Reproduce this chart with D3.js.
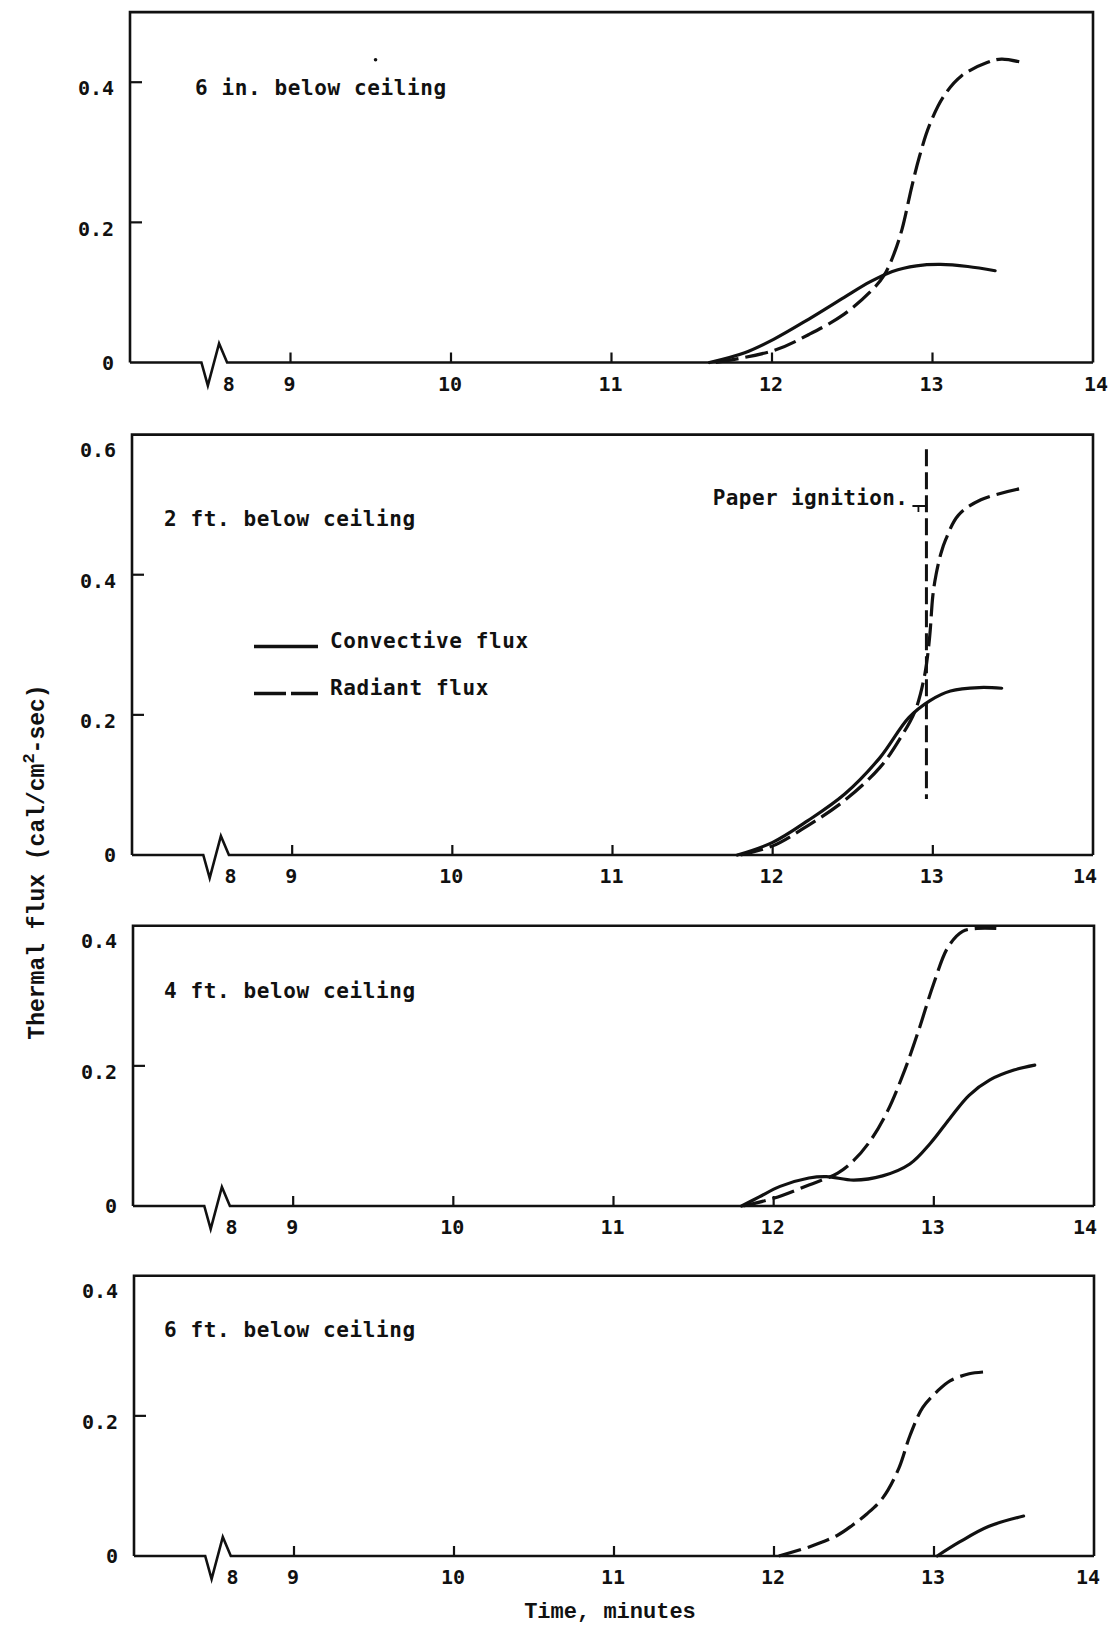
<!DOCTYPE html>
<html><head><meta charset="utf-8">
<script src="https://cdnjs.cloudflare.com/ajax/libs/d3/7.8.5/d3.min.js"></script>
<style>
html,body{margin:0;padding:0;background:#fff;}
svg{display:block;}
</style></head><body>
<svg id="chart" width="1117" height="1627"></svg>
<script>
// ---------------- DATA ----------------
const panelLabels = ["6 in. below ceiling", "2 ft. below ceiling", "4 ft. below ceiling", "6 ft. below ceiling"];
const xTickValues = [9, 10, 11, 12, 13, 14];
const xTickLabels = ["9", "10", "11", "12", "13", "14"];
const xBreakLabel = "8";
const yDomainMax = [0.5, 0.6, 0.4, 0.4];
const yTickValues = [[0, 0.2, 0.4], [0, 0.2, 0.4, 0.6], [0, 0.2, 0.4], [0, 0.2, 0.4]];
const yTickLabels = [["0", "0.2", "0.4"], ["0", "0.2", "0.4", "0.6"], ["0", "0.2", "0.4"], ["0", "0.2", "0.4"]];
const seriesNames = ["Convective flux", "Radiant flux"];
const xTitle = "Time, minutes";
const yTitleParts = ["Thermal flux (cal/cm", "2", "-sec)"];
const ignitionLabel = "Paper ignition.";
const ignitionTime = 12.96;
const ignitionRange = [0.08, 0.579];

// 6 in. below ceiling
const p1ConvTime = [11.61, 11.83, 12.01, 12.23, 12.45, 12.61, 12.75, 12.90, 13.05, 13.22, 13.39];
const p1ConvFlux = [0, 0.014, 0.033, 0.062, 0.093, 0.115, 0.130, 0.138, 0.140, 0.137, 0.131];
const p1RadTime = [11.65, 12.01, 12.23, 12.45, 12.63, 12.70, 12.76, 12.81, 12.87, 12.92, 12.98, 13.07, 13.18, 13.34, 13.43, 13.58];
const p1RadFlux = [0, 0.017, 0.040, 0.069, 0.105, 0.125, 0.155, 0.190, 0.250, 0.295, 0.338, 0.380, 0.409, 0.428, 0.433, 0.427];
// 2 ft. below ceiling
const p2ConvTime = [11.78, 12.00, 12.22, 12.45, 12.67, 12.85, 12.98, 13.11, 13.29, 13.43];
const p2ConvFlux = [0, 0.018, 0.049, 0.087, 0.139, 0.196, 0.220, 0.234, 0.239, 0.238];
const p2RadTime = [11.80, 12.00, 12.22, 12.45, 12.67, 12.80, 12.89, 12.95, 12.98, 13.00, 13.02, 13.05, 13.08, 13.16, 13.30, 13.55];
const p2RadFlux = [0, 0.013, 0.042, 0.078, 0.125, 0.168, 0.206, 0.258, 0.311, 0.370, 0.400, 0.430, 0.450, 0.485, 0.507, 0.523];
// 4 ft. below ceiling
const p3ConvTime = [11.80, 11.91, 12.04, 12.22, 12.33, 12.50, 12.68, 12.85, 12.98, 13.10, 13.22, 13.35, 13.50, 13.63];
const p3ConvFlux = [0, 0.013, 0.028, 0.040, 0.042, 0.037, 0.043, 0.060, 0.090, 0.125, 0.158, 0.180, 0.194, 0.201];
const p3RadTime = [11.81, 12.00, 12.22, 12.40, 12.50, 12.60, 12.71, 12.82, 12.91, 13.00, 13.09, 13.18, 13.27, 13.39];
const p3RadFlux = [0, 0.011, 0.030, 0.047, 0.065, 0.092, 0.135, 0.195, 0.254, 0.318, 0.370, 0.392, 0.396, 0.396];
// 6 ft. below ceiling
const p4ConvTime = [13.02, 13.16, 13.34, 13.56];
const p4ConvFlux = [0, 0.020, 0.042, 0.057];
const p4RadTime = [12.03, 12.22, 12.40, 12.49, 12.58, 12.68, 12.78, 12.85, 12.93, 13.02, 13.10, 13.22, 13.33];
const p4RadFlux = [0, 0.013, 0.030, 0.044, 0.060, 0.083, 0.125, 0.172, 0.212, 0.235, 0.250, 0.260, 0.263];

// ---------------- LAYOUT ----------------
const INK = "#111";
const F_MONO = "'DejaVu Sans Mono', monospace";
const F_TITLE = "'Liberation Mono', 'Courier New', monospace";
const PX_PER_UNIT = 700.7;
const geometry = [
  {left: 130, right: 1093, zero: 362.5, labelX: 195, labelY: 95, lastLabelShift: 3},
  {left: 132, right: 1093, zero: 855, labelX: 164, labelY: 526, lastLabelShift: -8},
  {left: 133, right: 1094, zero: 1206, labelX: 164, labelY: 998, lastLabelShift: -9},
  {left: 134, right: 1094, zero: 1556, labelX: 164, labelY: 1337, lastLabelShift: -6}
];
const zip = (t, v) => t.map((d, i) => [d, v[i]]);
const seriesByPanel = [
  [zip(p1ConvTime, p1ConvFlux), zip(p1RadTime, p1RadFlux)],
  [zip(p2ConvTime, p2ConvFlux), zip(p2RadTime, p2RadFlux)],
  [zip(p3ConvTime, p3ConvFlux), zip(p3RadTime, p3RadFlux)],
  [zip(p4ConvTime, p4ConvFlux), zip(p4RadTime, p4RadFlux)]
];
const breakT = [8.445, 8.485, 8.555, 8.605];

const svg = d3.select("#chart");
svg.append("rect").attr("width", 1117).attr("height", 1627).attr("fill", "#fff");

geometry.forEach((gm, pi) => {
  const x = d3.scaleLinear().domain([8, 14]).range([gm.left, gm.right]);
  const ymax = yDomainMax[pi];
  const y = d3.scaleLinear().domain([0, ymax]).range([gm.zero, gm.zero - ymax * PX_PER_UNIT]);
  const g = svg.append("g");
  const top = y(ymax), bot = y(0);

  // frame: left, top, right
  g.append("path")
    .attr("d", `M${x(8)},${bot}L${x(8)},${top}L${x(14)},${top}L${x(14)},${bot}`)
    .attr("fill", "none").attr("stroke", INK).attr("stroke-width", 2.6);
  // bottom axis with break symbol
  g.append("path")
    .attr("d", `M${x(8)},${bot}L${x(breakT[0])},${bot}L${x(breakT[1])},${bot + 23}L${x(breakT[2])},${bot - 19}L${x(breakT[3])},${bot}L${x(14)},${bot}`)
    .attr("fill", "none").attr("stroke", INK).attr("stroke-width", 2.6)
    .attr("stroke-linejoin", "miter").attr("stroke-miterlimit", 10);

  // x ticks
  g.selectAll(".xt").data(xTickValues.filter(v => v < 14)).join("line")
    .attr("x1", d => x(d)).attr("x2", d => x(d))
    .attr("y1", bot).attr("y2", bot - 10)
    .attr("stroke", INK).attr("stroke-width", 2.2);
  g.selectAll(".xl").data(xTickValues).join("text")
    .attr("x", d => x(d) + (d === 14 ? gm.lastLabelShift : -1)).attr("y", bot + 28)
    .attr("text-anchor", "middle")
    .attr("font-family", F_MONO).attr("font-weight", "bold").attr("font-size", 20).attr("fill", INK)
    .text((d, i) => xTickLabels[i]);
  g.append("text")
    .attr("x", x(breakT[3] + 0.01)).attr("y", bot + 28)
    .attr("text-anchor", "middle")
    .attr("font-family", F_MONO).attr("font-weight", "bold").attr("font-size", 20).attr("fill", INK)
    .text(xBreakLabel);

  // y ticks
  const yt = yTickValues[pi];
  g.selectAll(".yt").data(yt.filter(v => v > 0 && v < ymax)).join("line")
    .attr("x1", x(8)).attr("x2", x(8) + 12)
    .attr("y1", d => y(d)).attr("y2", d => y(d))
    .attr("stroke", INK).attr("stroke-width", 2.2);
  g.selectAll(".yl").data(yt).join("text")
    .attr("x", x(8) - 16)
    .attr("y", d => y(d) + (d === 0 ? 0 : (d >= ymax ? 15 : 6)))
    .attr("dy", "0.36em")
    .attr("text-anchor", "end")
    .attr("font-family", F_MONO).attr("font-weight", "bold").attr("font-size", 20).attr("fill", INK)
    .text((d, i) => yTickLabels[pi][i]);

  // panel label
  g.append("text")
    .attr("x", gm.labelX).attr("y", gm.labelY)
    .attr("font-family", F_MONO).attr("font-weight", "bold").attr("font-size", 21).attr("letter-spacing", 0.6)
    .attr("fill", INK).text(panelLabels[pi]);

  // series
  const line = d3.line().x(d => x(d[0])).y(d => y(d[1])).curve(d3.curveCatmullRom.alpha(0.5));
  const [conv, rad] = seriesByPanel[pi];
  g.append("path").datum(conv).attr("d", line)
    .attr("fill", "none").attr("stroke", INK).attr("stroke-width", 3.2).attr("stroke-linecap", "round");
  g.append("path").datum(rad).attr("d", line)
    .attr("fill", "none").attr("stroke", INK).attr("stroke-width", 3.2)
    .attr("stroke-dasharray", "23,7");

  if (pi === 0) {
    // small speck in the original
    g.append("circle").attr("cx", x(9.53)).attr("cy", y(0.432)).attr("r", 1.8).attr("fill", INK);
  }

  if (pi === 1) {
    // paper ignition marker
    const xi = x(ignitionTime);
    g.append("line")
      .attr("x1", xi).attr("x2", xi)
      .attr("y1", y(ignitionRange[1])).attr("y2", y(ignitionRange[0]))
      .attr("stroke", INK).attr("stroke-width", 3).attr("stroke-dasharray", "17,6");
    g.append("path")
      .attr("d", `M${xi - 14},${506}L${xi},${506}M${xi - 8},${506}L${xi - 8},${512}`)
      .attr("fill", "none").attr("stroke", INK).attr("stroke-width", 1.8);
    g.append("text")
      .attr("x", xi - 18).attr("y", 505)
      .attr("text-anchor", "end")
      .attr("font-family", F_MONO).attr("font-weight", "bold").attr("font-size", 21).attr("letter-spacing", 0.4)
      .attr("fill", INK).text(ignitionLabel);

    // legend
    const lx0 = 254, lx1 = 318;
    g.append("line").attr("x1", lx0).attr("x2", lx1).attr("y1", 646.5).attr("y2", 646.5)
      .attr("stroke", INK).attr("stroke-width", 3.5);
    g.append("line").attr("x1", lx0).attr("x2", lx1).attr("y1", 693.5).attr("y2", 693.5)
      .attr("stroke", INK).attr("stroke-width", 3.5).attr("stroke-dasharray", "32,5");
    g.append("text").attr("x", 330).attr("y", 648)
      .attr("font-family", F_MONO).attr("font-weight", "bold").attr("font-size", 21).attr("letter-spacing", 0.6)
      .attr("fill", INK).text(seriesNames[0]);
    g.append("text").attr("x", 330).attr("y", 695)
      .attr("font-family", F_MONO).attr("font-weight", "bold").attr("font-size", 21).attr("letter-spacing", 0.6)
      .attr("fill", INK).text(seriesNames[1]);
  }
});

// axis titles
svg.append("text")
  .attr("x", 610).attr("y", 1618)
  .attr("text-anchor", "middle")
  .attr("font-family", F_TITLE).attr("font-weight", "bold").attr("font-size", 22)
  .attr("fill", INK).text(xTitle);

const yT = svg.append("text")
  .attr("transform", "translate(44,862) rotate(-90)")
  .attr("text-anchor", "middle")
  .attr("font-family", F_TITLE).attr("font-weight", "bold").attr("font-size", 23)
  .attr("fill", INK);
yT.append("tspan").text(yTitleParts[0]);
yT.append("tspan").attr("dy", -10).attr("font-size", 17).text(yTitleParts[1]);
yT.append("tspan").attr("dy", 10).text(yTitleParts[2]);
</script>
</body></html>
